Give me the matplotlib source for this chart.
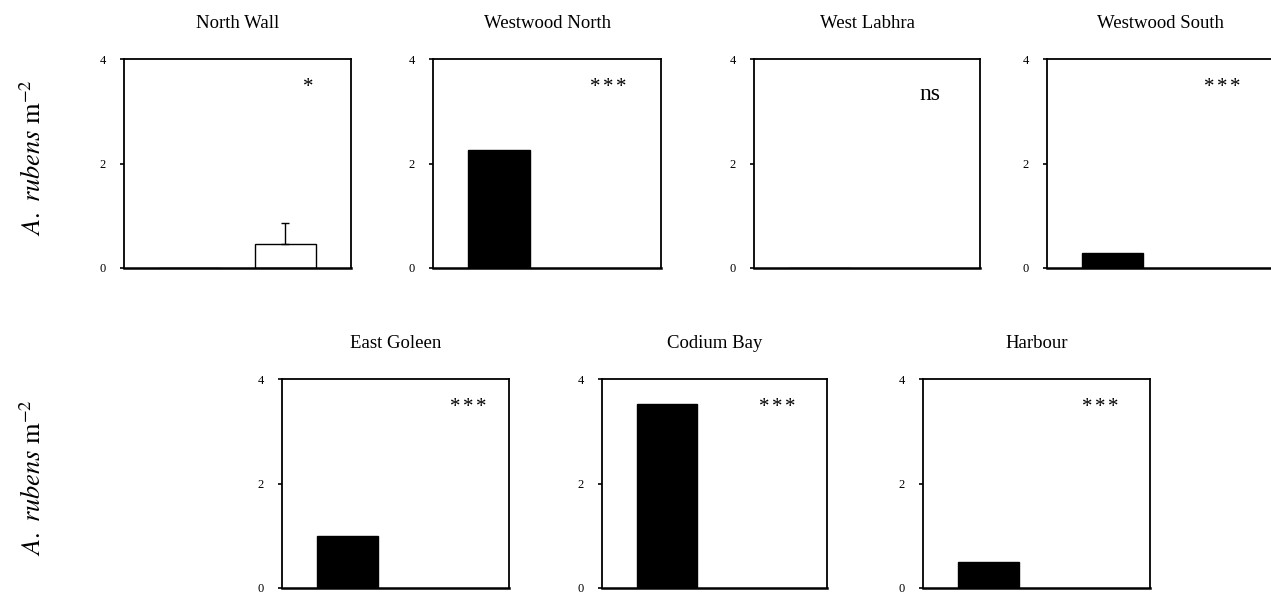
import matplotlib
matplotlib.use("Agg")
import matplotlib.pyplot as plt

plt.rcParams['font.family'] = ['Liberation Serif', 'DejaVu Serif']
plt.rcParams['mathtext.fontset'] = 'stix'

sites = ["North Wall", "Westwood North", "West Labhra", "Westwood South",
         "East Goleen", "Codium Bay", "Harbour"]
black_vals = [0.0, 2.26, 0.0, 0.29, 1.0, 3.52, 0.5]
white_vals = [0.45, 0.0, 0.0, 0.0, 0.0, 0.0, 0.0]
white_err = [0.42, 0.0, 0.0, 0.0, 0.0, 0.0, 0.0]
signif = ["*", "***", "ns", "***", "***", "***", "***"]
yticks = [0, 2, 4]

W, H = 1271, 603
fig = plt.figure(figsize=(W / 100, H / 100), dpi=100)

# panel pixel extents: (left, right, top, bottom)
panels = [(124, 351, 59, 268), (433, 661, 59, 268), (754, 980, 59, 268),
          (1047, 1274, 59, 268),
          (282, 509, 379, 588), (602, 827, 379, 588), (923, 1150, 379, 588)]
sig_x = [0.81, 0.77, 0.78, 0.77, 0.82, 0.78, 0.78]

for i, (l, r, t, b) in enumerate(panels):
    ax = fig.add_axes([l / W, (H - b) / H, (r - l) / W, (b - t) / H])
    ax.bar([0], [black_vals[i]], width=0.64, color='black', edgecolor='black',
           linewidth=1.0)
    if white_vals[i] > 0:
        ax.bar([1], [white_vals[i]], width=0.64, color='white', edgecolor='black',
               linewidth=1.0)
        if white_err[i] > 0:
            ax.errorbar([1], [white_vals[i]], yerr=[[0], [white_err[i]]],
                        fmt='none', ecolor='black', elinewidth=1.0, capsize=3,
                        capthick=1.0)
    ax.set_xlim(-0.69, 1.69)
    ax.set_ylim(0, 4)
    ax.set_xticks([])
    ax.set_yticks(yticks)
    ax.set_yticklabels([str(v) for v in yticks])
    ax.tick_params(axis='y', direction='out', length=3, width=1.2,
                   labelsize=9, pad=10, colors='black')
    for s in ax.spines.values():
        s.set_linewidth(1.3)
        s.set_color('black')
    ax.spines['bottom'].set_linewidth(1.8)
    ax.set_title(sites[i], fontsize=13.5, pad=22)
    if signif[i] == "ns":
        ax.text(sig_x[i], 0.804, "ns", transform=ax.transAxes, ha='center',
                va='baseline', fontsize=17)
    else:
        n = len(signif[i])
        for k in range(n):
            off = (k - (n - 1) / 2) * 9.4
            ax.annotate("*", xy=(sig_x[i], 0.842), xycoords='axes fraction',
                        xytext=(off, 0), textcoords='offset points',
                        ha='center', va='baseline', fontsize=15)

ylabel = r"$\mathit{A.\ rubens}\ \mathrm{m}^{-2}$"
fig.text(33 / W, 1 - 158 / H, ylabel, rotation=90, ha='center', va='center',
         fontsize=19)
fig.text(33 / W, 1 - 478 / H, ylabel, rotation=90, ha='center', va='center',
         fontsize=19)

fig.savefig("out.png", dpi=100)
